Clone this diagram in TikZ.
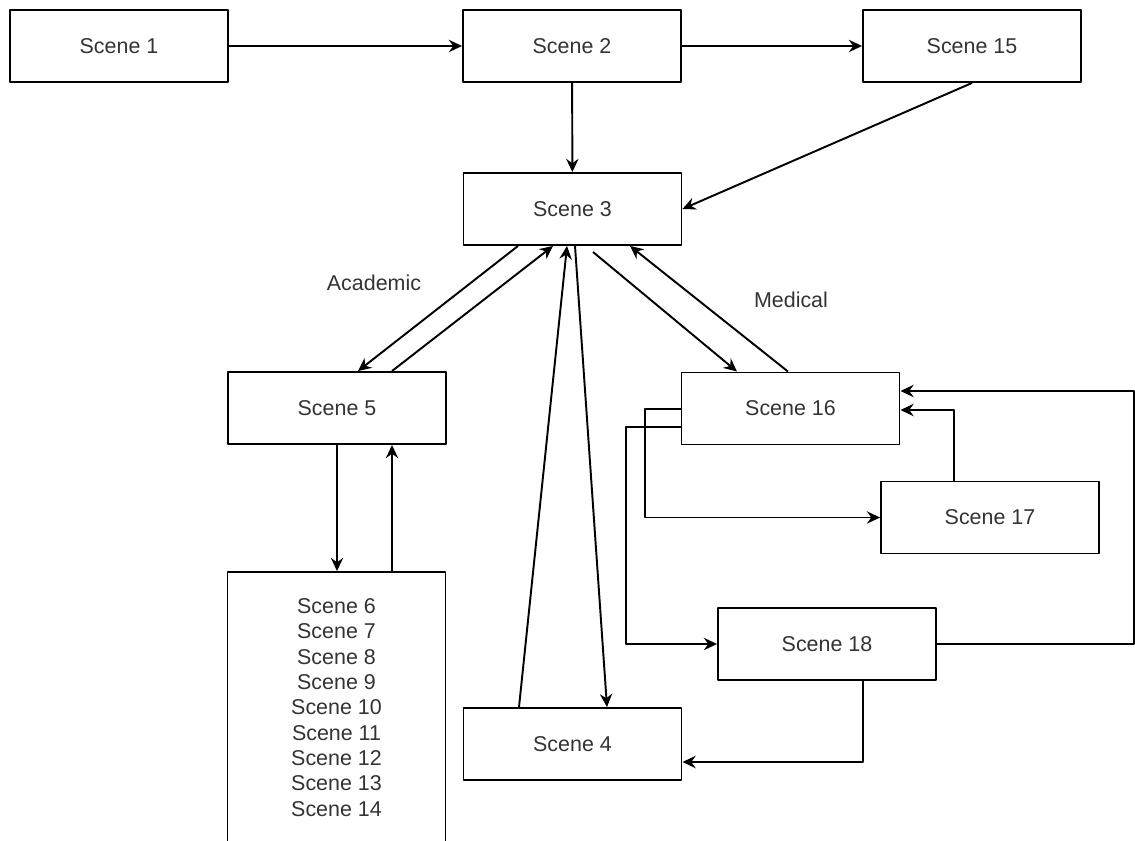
\documentclass[tikz,border=0pt]{standalone}
\usepackage{fontspec}
\setmainfont{Liberation Sans}
\usetikzlibrary{arrows.meta}
\definecolor{txtgray}{HTML}{333333}
\tikzset{
  scenebox/.style={draw=black, line width=1.1pt, minimum width=4.36cm, minimum height=1.44cm,
    inner sep=0pt, text=txtgray, align=center},
  lbl/.style={text=txtgray}
}
\begin{document}
\begin{tikzpicture}[x=0.02cm, y=-0.02cm, font=\fontsize{12.2}{14.4}\selectfont,
  line join=round, line width=1.1pt, >={Stealth[length=7.5pt, width=7pt, inset=2.5pt]}]
\useasboundingbox (0,0) rectangle (1135,841);
% scenes
\node[scenebox] (sc1) at (119,46) {Scene 1};
\node[scenebox] (sc2) at (572,46) {Scene 2};
\node[scenebox] (sc15) at (972,46) {Scene 15};
\node[scenebox] (sc3) at (572.5,209) {Scene 3};
\node[scenebox] (sc5) at (337,408) {Scene 5};
\node[scenebox] (sc16) at (790.5,408.5) {Scene 16};
\node[scenebox] (sc17) at (990,517.5) {Scene 17};
\node[scenebox] (sc18) at (827,644) {Scene 18};
\node[scenebox] (sc4) at (572.5,744) {Scene 4};
\node[scenebox, minimum height=5.42cm] (sc6) at (336.5,707.5) {Scene 6\\Scene 7\\Scene 8\\Scene 9\\Scene 10\\Scene 11\\Scene 12\\Scene 13\\Scene 14};
% branch labels
\node[lbl] (acad) at (374,283) {Academic};
\node[lbl] (med) at (791,300) {Medical};
% arrows
\draw[->] (sc1) -- (sc2);
\draw[->] (sc2) -- (sc15);
\draw[->] (sc2) -- (sc3);
\draw[->] (972,0 |- sc15.south) -- (sc3.east);
\draw[->] (518,0 |- sc3.south) -- (358,0 |- sc5.north);
\draw[->] (392,0 |- sc5.north) -- (553,0 |- sc3.south);
\draw[->] (519,0 |- sc4.north) -- (567,0 |- sc3.south);
\draw[->] (575,0 |- sc3.south) -- (607,0 |- sc4.north);
\draw[->] (593,252) -- (737,0 |- sc16.north);
\draw[->] (788,0 |- sc16.north) -- (630,0 |- sc3.south);
\draw[->] (337,0 |- sc5.south) -- (337,0 |- sc6.north);
\draw[->] (392,0 |- sc6.north) -- (392,0 |- sc5.south);
\draw[->] (sc16.west |- 0,409) -- ++(-36,0) |- (sc17);
\draw[->] (sc16.west |- 0,427) -- ++(-55,0) |- (sc18);
\draw[->] (954,0 |- sc17.north) |- (sc16.east |- 0,410);
\draw[->] (sc18.east) -- (1134,0 |- sc18.east) |- (sc16.east |- 0,391);
\draw[->] (863,0 |- sc18.south) |- (sc4.east |- 0,762);
\end{tikzpicture}
\end{document}
